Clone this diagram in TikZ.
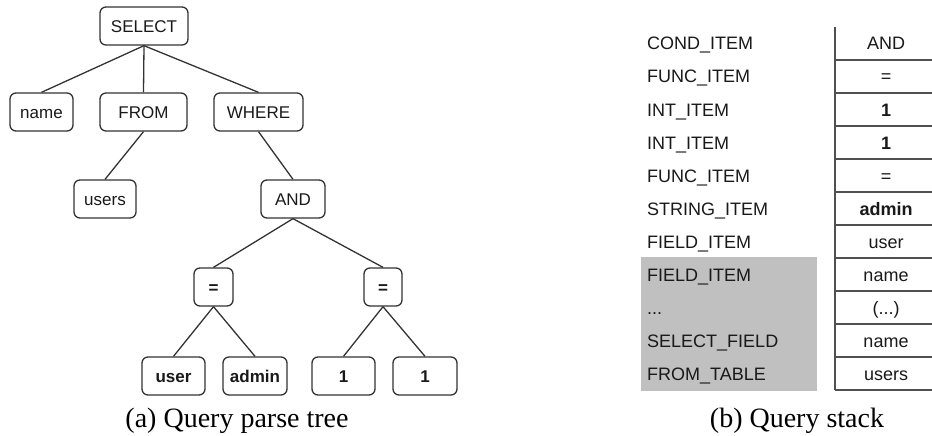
\documentclass[tikz,border=0pt]{standalone}
\usepackage{fontspec}
\setmainfont{Liberation Serif}
\newfontfamily\arialf{Liberation Sans}
\definecolor{stackgray}{HTML}{C0C0C0}
\definecolor{linecol}{HTML}{333333}
\definecolor{tablecol}{HTML}{505050}
\begin{document}
\begin{tikzpicture}[x=1pt,y=-1pt,
  tn/.style={draw=linecol, line width=1.3pt, rounded corners=6pt, minimum height=38pt,
    inner sep=0pt, text height=12.2pt, text depth=0pt,
    font=\arialf\fontsize{17}{20}\selectfont, text=black!90},
  tnb/.style={tn, font=\arialf\bfseries\fontsize{17}{20}\selectfont},
  edge/.style={draw=linecol, line width=1.3pt},
  lab/.style={anchor=base west, inner sep=0pt, font=\arialf\fontsize{18}{20}\selectfont, text=black!90},
  val/.style={anchor=base, inner sep=0pt, font=\arialf\fontsize{18}{20}\selectfont, text=black!90},
  valb/.style={val, font=\arialf\bfseries\fontsize{18}{20}\selectfont},
  tline/.style={draw=tablecol, line width=1.2pt},
  captext/.style={anchor=base, inner sep=0pt, font=\fontsize{28}{30}\selectfont}]
\useasboundingbox (0,0) rectangle (932,436);

% ---------- parse tree ----------
\node[tn, minimum width=88pt] (sel) at (144,26) {SELECT};
\node[tn, minimum width=63pt] (name) at (41.5,112) {name};
\node[tn, minimum width=87pt] (from) at (143.5,112) {FROM};
\node[tn, minimum width=89pt] (where) at (258.5,112) {WHERE};
\node[tn, minimum width=62pt] (users) at (105,199) {users};
\node[tn, minimum width=64pt] (and) at (293,199) {AND};
\node[tnb, minimum width=39pt] (eql) at (213.5,287) {=};
\node[tnb, minimum width=38pt] (eqr) at (383,287) {=};
\node[tnb, minimum width=63pt] (user) at (173.5,376) {user};
\node[tnb, minimum width=64pt] (admin) at (255,376) {admin};
\node[tnb, minimum width=63pt] (onel) at (343.5,376) {1};
\node[tnb, minimum width=64pt] (oner) at (425,376) {1};

\draw[edge] (sel.south) -- (name.north);
\draw[edge] (sel.south) -- (from.north);
\draw[edge] (sel.south) -- (where.north);
\draw[edge] (from.south) -- (users.north);
\draw[edge] (where.south) -- (and.north);
\draw[edge] (and.south) -- (eql.north);
\draw[edge] (and.south) -- (eqr.north);
\draw[edge] (eql.south) -- (user.north);
\draw[edge] (eql.south) -- (admin.north);
\draw[edge] (eqr.south) -- (onel.north);
\draw[edge] (eqr.south) -- (oner.north);

\node[captext] (capa) at (237,427) {(a) Query parse tree};

% ---------- query stack ----------
\fill[stackgray] (641,257) rectangle (817,391);
\draw[tline] (835,27) -- (835,390);
\foreach \k in {1,...,11} {
  \draw[tline] (835,{27+33*\k}) -- (932,{27+33*\k});
}
\node[lab] (l1) at (647,50) {COND\_ITEM};
\node[lab] (l2) at (647,83) {FUNC\_ITEM};
\node[lab] (l3) at (647,116) {INT\_ITEM};
\node[lab] (l4) at (647,149) {INT\_ITEM};
\node[lab] (l5) at (647,182) {FUNC\_ITEM};
\node[lab] (l6) at (647,215) {STRING\_ITEM};
\node[lab] (l7) at (647,248) {FIELD\_ITEM};
\node[lab] (l8) at (647,281) {FIELD\_ITEM};
\node[lab] (l9) at (647,314) {...};
\node[lab] (l10) at (647,347) {SELECT\_FIELD};
\node[lab] (l11) at (647,380) {FROM\_TABLE};

\node[val] (v1) at (886,50) {AND};
\node[val] (v2) at (886,83) {=};
\node[valb] (v3) at (886,116) {1};
\node[valb] (v4) at (886,149) {1};
\node[val] (v5) at (886,182) {=};
\node[valb] (v6) at (886,215) {admin};
\node[val] (v7) at (886,248) {user};
\node[val] (v8) at (886,281) {name};
\node[val] (v9) at (886,314) {(...)};
\node[val] (v10) at (886,347) {name};
\node[val] (v11) at (886,380) {users};

\node[captext] (capb) at (797,427) {(b) Query stack};
\end{tikzpicture}
\end{document}
